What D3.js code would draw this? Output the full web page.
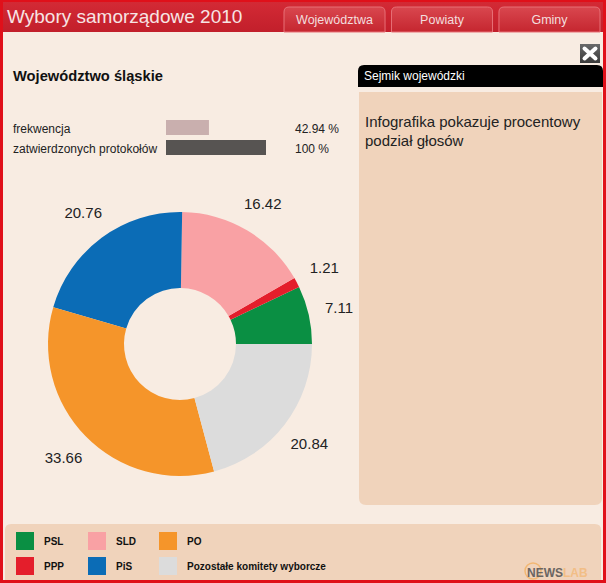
<!DOCTYPE html>
<html>
<head>
<meta charset="utf-8">
<script src="https://cdn.jsdelivr.net/npm/d3@7"></script>
<style>
  body { margin: 0; padding: 0; background: #fff; }
  svg { display: block; font-family: "Liberation Sans", Arial, sans-serif; }
</style>
</head>
<body>
<svg id="chart" width="606" height="583"></svg>
<script>
// ---- data ----
const parties = ["PSL", "PPP", "SLD", "PiS", "PO", "Pozostałe komitety wyborcze"];
const shares = [7.11, 1.21, 16.42, 20.76, 33.66, 20.84];
const shareLabels = ["7.11", "1.21", "16.42", "20.76", "33.66", "20.84"];
const partyColors = ["#0a8f43", "#e41e2b", "#f9a1a4", "#0b6cb6", "#f5952a", "#dcdcdc"];
const statNames = ["frekwencja", "zatwierdzonych protokołów"];
const statValues = [42.94, 100];
const statTexts = ["42.94 %", "100 %"];
const statColors = ["#c9afae", "#575452"];
const tabs = ["Województwa", "Powiaty", "Gminy"];

const svg = d3.select("#chart");
const defs = svg.append("defs");

const hg = defs.append("linearGradient").attr("id", "hdr").attr("x1", 0).attr("y1", 0).attr("x2", 0).attr("y2", 1);
hg.append("stop").attr("offset", "0%").attr("stop-color", "#d32a35");
hg.append("stop").attr("offset", "100%").attr("stop-color", "#c21f2b");
const tg = defs.append("linearGradient").attr("id", "tab").attr("x1", 0).attr("y1", 0).attr("x2", 0).attr("y2", 1);
tg.append("stop").attr("offset", "0%").attr("stop-color", "#d9474f");
tg.append("stop").attr("offset", "100%").attr("stop-color", "#c5262f");
const cg = defs.append("linearGradient").attr("id", "cls").attr("x1", 0).attr("y1", 0).attr("x2", 0).attr("y2", 1);
cg.append("stop").attr("offset", "0%").attr("stop-color", "#6a6a6a");
cg.append("stop").attr("offset", "100%").attr("stop-color", "#3a3a3a");

// frame
svg.append("rect").attr("width", 606).attr("height", 583).attr("fill", "#e0101a");
svg.append("rect").attr("x", 3).attr("y", 3).attr("width", 600).attr("height", 577).attr("fill", "#f8ece2");
// header
svg.append("rect").attr("x", 3).attr("y", 2).attr("width", 600).attr("height", 30).attr("fill", "url(#hdr)");
svg.append("text").attr("x", 7).attr("y", 23).attr("font-size", 19).attr("fill", "#f7e4e4")
  .text("Wybory samorządowe 2010");

function topRounded(x, y, w, h, r) {
  return `M${x},${y + h} V${y + r} Q${x},${y} ${x + r},${y} H${x + w - r} Q${x + w},${y} ${x + w},${y + r} V${y + h} Z`;
}
function bottomRounded(x, y, w, h, r) {
  return `M${x},${y} H${x + w} V${y + h - r} Q${x + w},${y + h} ${x + w - r},${y + h} H${x + r} Q${x},${y + h} ${x},${y + h - r} Z`;
}

const tabX = d3.scaleBand().domain(tabs).range([284, 600]).paddingInner(0.06);
const tabG = svg.append("g").selectAll("g").data(tabs).join("g");
tabG.append("path")
  .attr("d", d => topRounded(tabX(d), 7, tabX.bandwidth(), 25, 5))
  .attr("fill", "url(#tab)").attr("stroke", "#e77077").attr("stroke-width", 1);
tabG.append("text")
  .attr("x", d => tabX(d) + tabX.bandwidth() / 2).attr("y", 24)
  .attr("text-anchor", "middle").attr("font-size", 12.5).attr("fill", "#f3dede")
  .text(d => d);

// title
svg.append("text").attr("x", 13).attr("y", 81).attr("font-size", 14.7).attr("font-weight", "bold")
  .attr("fill", "#111").text("Województwo śląskie");

// stats bars
const barScale = d3.scaleLinear().domain([0, 100]).range([0, 100]);
const statY = d3.scaleBand().domain(statNames).range([120, 155]).paddingInner(0.25);
const statG = svg.append("g").selectAll("g").data(statNames).join("g");
statG.append("text").attr("x", 13).attr("y", d => statY(d) + 12.5).attr("font-size", 12).attr("fill", "#222").text(d => d);
statG.append("rect").attr("x", 166).attr("y", d => statY(d))
  .attr("width", (d, i) => barScale(statValues[i])).attr("height", 15)
  .attr("fill", (d, i) => statColors[i]);
statG.append("text").attr("x", 295).attr("y", d => statY(d) + 12.5).attr("font-size", 12).attr("fill", "#222")
  .text((d, i) => statTexts[i]);

// right panel
svg.append("rect").attr("x", 580).attr("y", 44).attr("width", 20).attr("height", 19).attr("fill", "url(#cls)");
svg.append("path").attr("d", "M584.5,48.5 L595.5,58.5 M595.5,48.5 L584.5,58.5")
  .attr("stroke", "#fff").attr("stroke-width", 4).attr("stroke-linecap", "round");
svg.append("path").attr("d", topRounded(358, 65, 245, 22, 6)).attr("fill", "#000");
svg.append("text").attr("x", 364).attr("y", 80).attr("font-size", 12).attr("fill", "#fff").text("Sejmik wojewódzki");
svg.append("path").attr("d", bottomRounded(359, 92, 243, 413, 7)).attr("fill", "#f0d3bb");
svg.append("text").attr("x", 365).attr("y", 127).attr("font-size", 15).attr("fill", "#222").text("Infografika pokazuje procentowy");
svg.append("text").attr("x", 365).attr("y", 146).attr("font-size", 15).attr("fill", "#222").text("podział głosów");

// donut
const cx = 180, cy = 344;
const pie = d3.pie().sort(null).value(d => d)
  .startAngle(Math.PI / 2).endAngle(Math.PI / 2 - 2 * Math.PI);
const arcs = pie(shares);
const arc = d3.arc().innerRadius(56).outerRadius(132);
const labelArc = d3.arc().innerRadius(163).outerRadius(163);
const donut = svg.append("g").attr("transform", `translate(${cx},${cy})`);
donut.selectAll("path").data(arcs).join("path")
  .attr("d", arc).attr("fill", (d, i) => partyColors[i]);
donut.selectAll("text").data(arcs).join("text")
  .attr("transform", d => `translate(${labelArc.centroid(d)})`)
  .attr("text-anchor", "middle").attr("dy", "0.36em")
  .attr("font-size", 15).attr("fill", "#222")
  .text((d, i) => shareLabels[i]);

// legend
svg.append("path").attr("d", topRounded(5, 524, 596, 56, 6)).attr("fill", "#f0d3bb");
const legX = [16, 88, 159];
const legG = svg.append("g").selectAll("g").data(parties).join("g")
  .attr("transform", (d, i) => `translate(${legX[Math.floor(i / 2)]},${532 + (i % 2) * 25})`);
legG.append("rect").attr("width", 18).attr("height", 18).attr("fill", (d, i) => partyColors[i]);
legG.append("text").attr("x", 28).attr("y", 13).attr("font-size", 10).attr("font-weight", "bold")
  .attr("fill", "#111").text(d => d);

// logo
const logo = svg.append("g");
logo.append("circle").attr("cx", 533).attr("cy", 571).attr("r", 8).attr("fill", "none")
  .attr("stroke", "#f2b060").attr("stroke-width", 1.5).attr("opacity", 0.8);
const lt = logo.append("text").attr("x", 527).attr("y", 577).attr("font-size", 12).attr("font-weight", "bold");
lt.append("tspan").attr("fill", "#6a6562").text("NEWS");
lt.append("tspan").attr("fill", "#f2be86").text("LAB");
</script>
</body>
</html>
